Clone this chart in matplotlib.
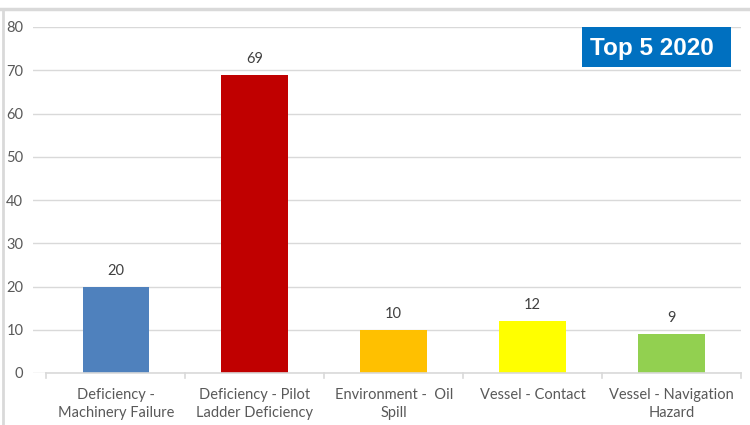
import matplotlib.pyplot as plt
from matplotlib.lines import Line2D
from matplotlib.patches import Rectangle

# Top 5 incident categories, 2020
categories = ["Deficiency -\nMachinery Failure",
              "Deficiency - Pilot\nLadder Deficiency",
              "Environment -  Oil\nSpill",
              "Vessel - Contact",
              "Vessel - Navigation\nHazard"]
counts = [20, 69, 10, 12, 9]
bar_colors = ["#4F81BD", "#C00000", "#FFC000", "#FFFF00", "#92D050"]
y_ticks = [0, 10, 20, 30, 40, 50, 60, 70, 80]

label_grey = "#595959"
plt.rcParams['font.family'] = ['Lato', 'DejaVu Sans']

fig = plt.figure(figsize=(7.5, 4.25), dpi=100)
W, H = 750, 425
# plot area in pixel coords: x 33..741, y 27..373
ax = fig.add_axes([33 / W, 1 - 373 / H, (741 - 33) / W, (373 - 27) / H])

x = list(range(len(categories)))
ax.bar(x, counts, width=0.48, color=bar_colors, zorder=3)
for xi, v in zip(x, counts):
    ax.text(xi, v + 2.0, str(v), ha='center', va='bottom',
            fontsize=10.5, color="#404040")

ax.set_ylim(0, 80)
ax.set_xlim(-0.597, 4.5)
ax.set_yticks(y_ticks)
ax.yaxis.grid(True, color="#D9D9D9", linewidth=1, zorder=0)
ax.tick_params(axis='y', length=0, pad=7, labelsize=10.5, labelcolor=label_grey)
ax.set_xticks(x)
ax.set_xticklabels(categories, fontsize=10.5, color=label_grey, linespacing=1.3)
ax.tick_params(axis='x', length=0, pad=11)

for s in ax.spines.values():
    s.set_visible(False)

# category axis line with tick marks between groups
ax.plot([-0.5, 4.5], [0, 0], color="#D9D9D9", linewidth=1.2, zorder=4,
        clip_on=False)
for b in [-0.5, 0.5, 1.5, 2.5, 3.5, 4.5]:
    ax.plot([b, b], [0, -1.2], color="#D9D9D9", linewidth=1.2, clip_on=False)

# title box (pixel box x 582..731, y 27..67)
fig.add_artist(Rectangle((582 / W, 1 - 67 / H), 149 / W, 40 / H,
                         facecolor='#0070C0', edgecolor='none',
                         transform=fig.transFigure, zorder=5))
fig.text(651.5 / W, 1 - 48 / H, "Top 5 2020", ha='center', va='center',
         fontsize=17.5, fontweight='bold', color='white',
         family='Liberation Sans', zorder=6)

# outer frame lines
fig.add_artist(Line2D([0, 1], [1 - 8.5 / H, 1 - 8.5 / H], color="#D9D9D9",
                      linewidth=2.5, transform=fig.transFigure))
fig.add_artist(Line2D([3 / W, 3 / W], [0, 1 - 8.5 / H], color="#D9D9D9",
                      linewidth=2, transform=fig.transFigure))

fig.savefig("out.png", dpi=100)
